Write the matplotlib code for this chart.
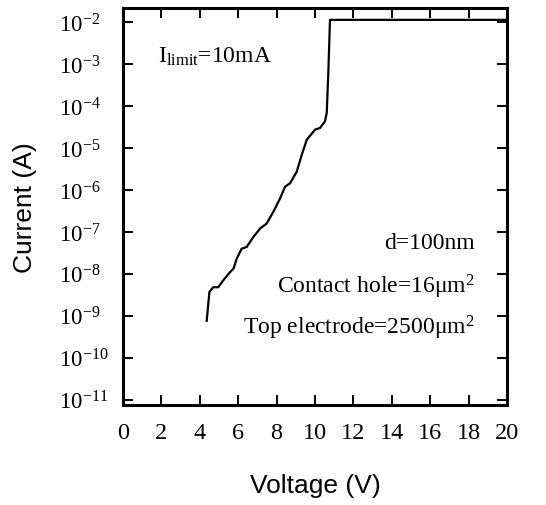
import numpy as np
import matplotlib
matplotlib.use("Agg")
import matplotlib.pyplot as plt
from matplotlib.ticker import NullLocator, FixedLocator
from matplotlib.transforms import ScaledTranslation

# Data
voltage = [4.36, 4.50, 4.70, 4.96, 5.23, 5.57, 5.75, 5.92, 6.18, 6.44, 6.79, 7.14,
           7.48, 7.83, 8.18, 8.44, 8.70, 9.05, 9.31, 9.57, 10.00, 10.26, 10.52,
           10.61, 10.69, 10.78, 20.0]
log_current = [-9.12, -8.43, -8.32, -8.32, -8.15, -7.96, -7.88, -7.64, -7.40, -7.36,
               -7.12, -6.92, -6.80, -6.52, -6.20, -5.92, -5.84, -5.56, -5.16, -4.80,
               -4.56, -4.52, -4.36, -4.16, -3.24, -1.94, -1.94]
x_ticks = [0, 2, 4, 6, 8, 10, 12, 14, 16, 18, 20]
y_exponents = [-11, -10, -9, -8, -7, -6, -5, -4, -3, -2]
notes = ["d=100nm", "Contact hole=16\u03bcm$^2$", "Top electrode=2500\u03bcm$^2$"]

plt.rcParams['mathtext.fontset'] = 'custom'
plt.rcParams['mathtext.rm'] = 'Liberation Serif'
plt.rcParams['mathtext.it'] = 'Liberation Serif:italic'
plt.rcParams['mathtext.default'] = 'rm'

fig = plt.figure(figsize=(5.46, 5.06), dpi=100)
ax = fig.add_axes([0.2253, 0.1976, 0.9286 - 0.2253, 0.982 - 0.1976])

current = [10 ** v for v in log_current]
ax.plot(voltage, current, color='black', lw=1.6, solid_joinstyle='round')

ax.set_yscale('log')
ax.set_xlim(0, 20)
ax.set_ylim(10 ** -11.13, 10 ** -1.66)
ax.xaxis.set_major_locator(FixedLocator(x_ticks))
ax.yaxis.set_major_locator(FixedLocator([10.0 ** e for e in y_exponents]))
ax.yaxis.set_minor_locator(NullLocator())
ax.set_xticklabels([str(t) for t in x_ticks], fontfamily='Liberation Serif', fontsize=17.5)
ax.set_yticklabels([r'$10^{%d}$' % e for e in y_exponents], fontsize=16.5, ha='left')
shift = ScaledTranslation(0, -3 / 72, fig.dpi_scale_trans)
for lab in ax.get_yticklabels():
    lab.set_transform(lab.get_transform() + shift)

for s in ax.spines.values():
    s.set_linewidth(2.2)
ax.tick_params(axis='both', which='major', direction='in', length=7.5, width=1.4,
               top=True, right=True)
ax.tick_params(axis='x', pad=12)
ax.tick_params(axis='y', pad=46)

ax.set_xlabel('Voltage (V)', fontfamily='Liberation Sans', fontsize=19, labelpad=22)
ax.set_ylabel('Current (A)', fontfamily='Liberation Sans', fontsize=19, labelpad=16)

ax.text(0.09, 0.865, r'I$_{\rm limit}$=10mA', transform=ax.transAxes,
        fontfamily='Liberation Serif', fontsize=17, ha='left', va='baseline')
ys = [0.395, 0.283, 0.18]
for t, y in zip(notes, ys):
    ax.text(0.915, y, t, transform=ax.transAxes, fontfamily='Liberation Serif',
            fontsize=17, ha='right', va='baseline')

fig.savefig('out.png', dpi=100)
